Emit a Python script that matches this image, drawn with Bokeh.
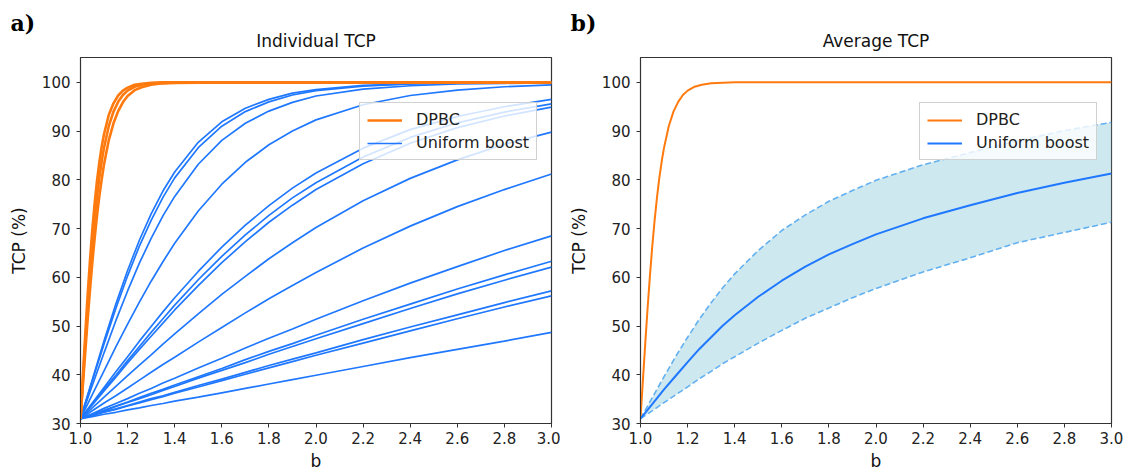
from bokeh.plotting import figure
from bokeh.layouts import row
from bokeh.models import Range1d, Legend, LegendItem, Title, FixedTicker, NumeralTickFormatter
from bokeh.embed import file_html
from bokeh.resources import INLINE

# ---------------- data ----------------
b = [1.0, 1.05, 1.1, 1.15, 1.2, 1.25, 1.3, 1.35, 1.4, 1.5, 1.6, 1.7, 1.8, 1.9, 2.0,
     2.2, 2.4, 2.6, 2.8, 3.0]

# individual uniform-boost TCP curves (%)
ub_01 = [31.0, 38.7, 46.3, 53.6, 60.3, 66.4, 71.7, 76.4, 80.4, 86.6, 91.0, 94.0, 96.0, 97.4, 98.3, 99.2, 99.7, 99.9, 99.9, 100.0]
ub_02 = [31.0, 39.0, 47.0, 54.5, 61.4, 67.6, 73.0, 77.7, 81.6, 87.7, 91.9, 94.7, 96.5, 97.8, 98.5, 99.4, 99.7, 99.9, 100.0, 100.0]
ub_03 = [31.0, 37.8, 44.5, 51.1, 57.2, 62.9, 68.0, 72.6, 76.6, 83.2, 88.1, 91.6, 94.1, 95.9, 97.2, 98.6, 99.3, 99.7, 99.8, 99.9]
ub_04 = [31.0, 35.9, 40.8, 45.7, 50.4, 54.9, 59.2, 63.2, 67.0, 73.6, 79.1, 83.6, 87.2, 90.0, 92.3, 95.4, 97.3, 98.4, 99.1, 99.5]
ub_05 = [31.0, 34.2, 37.4, 40.6, 43.7, 46.9, 49.9, 52.9, 55.8, 61.2, 66.2, 70.7, 74.7, 78.3, 81.4, 86.5, 90.3, 93.0, 95.0, 96.5]
ub_06 = [31.0, 34.0, 37.0, 39.9, 42.9, 45.8, 48.7, 51.5, 54.3, 59.5, 64.3, 68.7, 72.7, 76.3, 79.4, 84.7, 88.7, 91.7, 93.9, 95.6]
ub_07 = [31.0, 33.8, 36.7, 39.5, 42.4, 45.2, 47.9, 50.6, 53.3, 58.3, 63.0, 67.3, 71.3, 74.8, 78.0, 83.3, 87.5, 90.7, 93.1, 94.9]
ub_08 = [31.0, 33.2, 35.4, 37.6, 39.8, 42.0, 44.1, 46.3, 48.4, 52.5, 56.5, 60.2, 63.8, 67.1, 70.2, 75.7, 80.3, 84.1, 87.3, 89.8]
ub_09 = [31.0, 32.6, 34.2, 35.7, 37.3, 38.9, 40.5, 42.1, 43.6, 46.7, 49.7, 52.7, 55.6, 58.3, 61.0, 66.0, 70.5, 74.5, 78.0, 81.2]
ub_10 = [31.0, 32.0, 33.1, 34.1, 35.1, 36.2, 37.2, 38.3, 39.3, 41.4, 43.4, 45.5, 47.5, 49.4, 51.4, 55.2, 58.8, 62.2, 65.5, 68.5]
ub_11 = [31.0, 31.8, 32.6, 33.5, 34.3, 35.1, 35.9, 36.8, 37.6, 39.3, 40.9, 42.5, 44.2, 45.8, 47.4, 50.5, 53.6, 56.6, 59.4, 62.1]
ub_12 = [31.0, 31.9, 32.7, 33.6, 34.4, 35.3, 36.2, 37.0, 37.9, 39.6, 41.3, 43.1, 44.8, 46.4, 48.1, 51.4, 54.5, 57.6, 60.5, 63.3]
ub_13 = [31.0, 31.6, 32.3, 32.9, 33.6, 34.2, 34.9, 35.5, 36.2, 37.5, 38.8, 40.1, 41.4, 42.7, 44.0, 46.5, 49.0, 51.5, 53.9, 56.2]
ub_14 = [31.0, 31.7, 32.4, 33.0, 33.7, 34.4, 35.1, 35.7, 36.4, 37.8, 39.1, 40.5, 41.9, 43.2, 44.5, 47.2, 49.8, 52.3, 54.8, 57.2]
ub_15 = [31.0, 31.4, 31.9, 32.3, 32.8, 33.2, 33.7, 34.1, 34.6, 35.4, 36.3, 37.2, 38.1, 39.0, 39.9, 41.7, 43.5, 45.2, 46.9, 48.7]

# DPBC curves (%)
b_dpbc = [1.0, 1.01, 1.02, 1.03, 1.04, 1.05, 1.06, 1.07, 1.08, 1.09, 1.1, 1.12, 1.14,
          1.16, 1.18, 1.2, 1.23, 1.26, 1.3, 1.35, 1.4, 1.6, 2.0, 3.0]
dpbc_1 = [31.0, 37.8, 44.5, 51.1, 57.2, 62.9, 68.0, 72.6, 76.6, 80.1, 83.2, 88.1, 91.6,
          94.1, 95.9, 97.2, 98.4, 99.0, 99.5, 99.8, 99.9, 100.0, 100.0, 100.0]
dpbc_2 = [31.0, 38.7, 46.3, 53.6, 60.3, 66.4, 71.7, 76.4, 80.4, 83.8, 86.6, 91.0, 94.0,
          96.0, 97.4, 98.3, 99.1, 99.5, 99.8, 99.9, 100.0, 100.0, 100.0, 100.0]
dpbc_3 = [31.0, 39.6, 48.1, 56.1, 63.3, 69.7, 75.1, 79.8, 83.6, 86.8, 89.4, 93.3, 95.7,
          97.3, 98.3, 98.9, 99.5, 99.7, 99.9, 100.0, 100.0, 100.0, 100.0, 100.0]

# average curves (%)
avg_dpbc = [31.0, 38.7, 46.3, 53.6, 60.3, 66.4, 71.7, 76.4, 80.4, 83.8, 86.6, 91.0, 94.0,
            96.0, 97.4, 98.3, 99.1, 99.5, 99.8, 99.9, 100.0, 100.0, 100.0, 100.0]
avg_ub = [31.0, 34.0, 37.0, 39.8, 42.6, 45.3, 47.7, 50.1, 52.2, 56.0, 59.3, 62.2, 64.7,
          66.8, 68.8, 72.1, 74.8, 77.3, 79.4, 81.3]
avg_ub_upper = [31.0, 35.3, 39.6, 43.8, 47.7, 51.4, 54.8, 57.9, 60.7, 65.5, 69.6, 72.8,
                75.6, 77.8, 79.9, 83.1, 85.6, 88.0, 90.1, 91.8]
avg_ub_lower = [31.0, 32.6, 34.3, 35.9, 37.5, 39.2, 40.7, 42.3, 43.7, 46.5, 49.1, 51.6,
                53.7, 55.8, 57.7, 61.1, 64.0, 67.1, 69.2, 71.3]

x_ticks = [1.0, 1.2, 1.4, 1.6, 1.8, 2.0, 2.2, 2.4, 2.6, 2.8, 3.0]
y_ticks = [30, 40, 50, 60, 70, 80, 90, 100]

# ---------------- styling ----------------
FONT = "DejaVu Sans"
ORANGE = "#ff7a0e"
BLUE = "#1f78ff"
FILL = "#add8e6"
DASH = "#62b0f0"
AXC = "#333333"


def make_fig(title, letter, width, border_right):
    p = figure(width=width, height=473, output_backend="svg", toolbar_location=None,
               title=None,
               x_range=Range1d(1.0, 3.0), y_range=Range1d(30, 105.1),
               min_border_left=80, min_border_right=border_right,
               min_border_top=57, min_border_bottom=50)
    t_main = Title(text=title, align="center", text_font=FONT, text_font_size="17px",
                   text_font_style="normal", text_color="#111111", standoff=13)
    p.add_layout(t_main, "above")
    t_lab = Title(text=letter + ")", align="left", offset=-70, text_font="DejaVu Serif",
                  text_font_style="bold", text_font_size="22px", text_color="#000000",
                  standoff=-26)
    p.add_layout(t_lab, "above")
    p.xgrid.visible = False
    p.ygrid.visible = False
    p.outline_line_color = AXC
    p.outline_line_width = 1.2
    p.background_fill_color = "white"
    p.border_fill_color = "white"
    for ax in (p.xaxis[0], p.yaxis[0]):
        ax.axis_line_color = AXC
        ax.major_tick_line_color = AXC
        ax.minor_tick_line_color = None
        ax.major_tick_out = 4
        ax.major_tick_in = 0
        ax.major_label_text_font = FONT
        ax.major_label_text_font_size = "15px"
        ax.major_label_text_color = "#222222"
        ax.axis_label_text_font = FONT
        ax.axis_label_text_font_size = "17px"
        ax.axis_label_text_font_style = "normal"
        ax.axis_label_text_color = "#111111"
    p.xaxis.ticker = FixedTicker(ticks=x_ticks)
    p.xaxis.formatter = NumeralTickFormatter(format="0.0")
    p.yaxis.ticker = FixedTicker(ticks=y_ticks)
    p.xaxis.axis_label = "b"
    p.yaxis.axis_label = "TCP (%)"
    p.xaxis.major_label_standoff = 4
    p.xaxis.axis_label_standoff = 4
    p.yaxis.major_label_standoff = 6
    p.yaxis.axis_label_standoff = 10
    return p


def style_legend(leg):
    leg.location = (279, 263)
    leg.label_text_font = FONT
    leg.label_text_font_size = "16px"
    leg.label_text_color = "#222222"
    leg.glyph_width = 35
    leg.glyph_height = 18
    leg.label_height = 18
    leg.label_standoff = 14
    leg.padding = 7
    leg.spacing = 4
    leg.margin = 0
    leg.background_fill_color = "white"
    leg.background_fill_alpha = 0.8
    leg.border_line_color = "#cccccc"
    leg.border_line_alpha = 0.9


# ---------------- panel a ----------------
pa = make_fig("Individual TCP", "a", 560, 9)
ub_curves = [ub_01, ub_02, ub_03, ub_04, ub_05, ub_06, ub_07, ub_08,
             ub_09, ub_10, ub_11, ub_12, ub_13, ub_14, ub_15]
blue_r = None
for cur in ub_curves:
    r = pa.line(b, cur, line_color=BLUE, line_width=1.7)
    if blue_r is None:
        blue_r = r
orange_r = None
for cur in [dpbc_1, dpbc_2, dpbc_3]:
    r = pa.line(b_dpbc, cur, line_color=ORANGE, line_width=2.6)
    if orange_r is None:
        orange_r = r
leg_a = Legend(items=[LegendItem(label="DPBC", renderers=[orange_r]),
                      LegendItem(label="Uniform boost", renderers=[blue_r])])
style_legend(leg_a)
pa.add_layout(leg_a)

# ---------------- panel b ----------------
pb = make_fig("Average TCP", "b", 569, 18)
pb.varea(x=b, y1=avg_ub_lower, y2=avg_ub_upper, fill_color=FILL, fill_alpha=0.6)
pb.line(b, avg_ub_upper, line_color=DASH, line_width=1.6, line_dash="6 3")
pb.line(b, avg_ub_lower, line_color=DASH, line_width=1.6, line_dash="6 3")
r_ob = pb.line(b_dpbc, avg_dpbc, line_color=ORANGE, line_width=2.0)
r_bb = pb.line(b, avg_ub, line_color=BLUE, line_width=2.0)
leg_b = Legend(items=[LegendItem(label="DPBC", renderers=[r_ob]),
                      LegendItem(label="Uniform boost", renderers=[r_bb])])
style_legend(leg_b)
pb.add_layout(leg_b)

layout = row(pa, pb)
open("out.html", "w").write(file_html(layout, INLINE))
